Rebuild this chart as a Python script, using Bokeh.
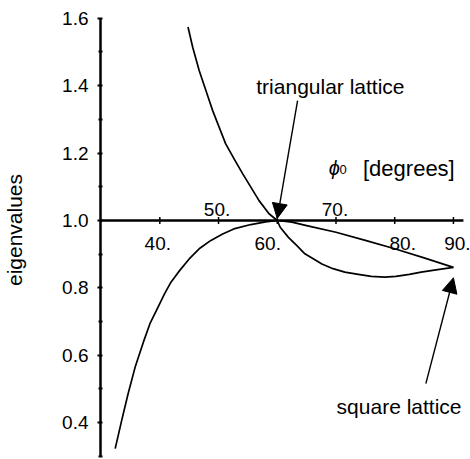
from bokeh.plotting import figure
from bokeh.models import LinearAxis, FixedTicker, Range1d, Arrow, NormalHead, PrintfTickFormatter
from bokeh.embed import file_html
from bokeh.resources import INLINE
from bokeh.core.properties import value

# Branch falling through the triangular-lattice point (phi0 = 60)
tri_angle = [44.8, 45.6, 46.7, 47.85, 49.0, 50.1, 51.2, 52.65, 54.1, 55.5, 56.9, 58.6, 60.0,
             60.5, 61.9, 63.3, 64.7, 66.2, 67.6, 69.5, 71.5, 73.8, 76.0, 78.3, 80.2, 82.5,
             84.5, 87.3, 90.0]
tri_eig = [1.574, 1.514, 1.445, 1.386, 1.326, 1.277, 1.228, 1.183, 1.139, 1.099, 1.059, 1.020, 1.000,
           0.980, 0.950, 0.926, 0.901, 0.886, 0.871, 0.857, 0.847, 0.840, 0.834, 0.832, 0.834, 0.840,
           0.847, 0.854, 0.861]

# Branch rising to touch 1.0 at 60 and ending at the square-lattice point (phi0 = 90)
sq_angle = [32.4, 33.5, 34.6, 35.8, 37.2, 38.3, 39.7, 40.8, 41.9, 43.4, 45.0, 46.7, 48.7,
            50.7, 52.6, 55.5, 58.0, 60.0, 62.5, 65.0, 70.0, 75.0, 80.0, 85.0, 90.0]
sq_eig = [0.323, 0.406, 0.486, 0.565, 0.639, 0.693, 0.743, 0.782, 0.817, 0.852, 0.886, 0.916, 0.941,
          0.960, 0.975, 0.988, 0.996, 1.000, 0.995, 0.985, 0.965, 0.941, 0.916, 0.889, 0.861]

x_ticks = [40, 50, 60, 70, 80, 90]
x_tick_labels = ["40.", "50.", "60.", "70.", "80.", "90."]
y_ticks = [0.4, 0.6, 0.8, 1.0, 1.2, 1.4, 1.6]
y_minor_ticks = [0.3, 0.5, 0.7, 0.9, 1.1, 1.3, 1.5]

FONT = "Liberation Sans"
INK = "black"

p = figure(width=470, height=459, output_backend="svg", toolbar_location=None,
           title=None, x_axis_type=None, y_axis_type=None,
           x_range=Range1d(29.9, 92.905), y_range=Range1d(0.2908, 1.6528),
           min_border_left=97, min_border_right=0, min_border_top=0, min_border_bottom=0)
p.outline_line_color = None
p.background_fill_color = "white"
p.border_fill_color = "white"

# vertical axis
yaxis = LinearAxis(bounds=(0.3, 1.6),
                   ticker=FixedTicker(ticks=y_ticks, minor_ticks=y_minor_ticks),
                   formatter=PrintfTickFormatter(format="%.1f"),
                   axis_label="eigenvalues")
yaxis.axis_line_width = 2.5
yaxis.axis_line_color = INK
yaxis.major_tick_line_width = 2
yaxis.major_tick_line_color = INK
yaxis.major_tick_in = 2
yaxis.major_tick_out = 3
yaxis.minor_tick_line_width = 2
yaxis.minor_tick_line_color = INK
yaxis.minor_tick_in = 2
yaxis.minor_tick_out = 2
yaxis.major_label_standoff = 9
yaxis.major_label_text_font = FONT
yaxis.major_label_text_font_size = "19px"
yaxis.major_label_text_color = INK
yaxis.axis_label_standoff = 33
yaxis.axis_label_text_font = FONT
yaxis.axis_label_text_font_size = "21px"
yaxis.axis_label_text_font_style = "normal"
yaxis.axis_label_text_color = INK
p.add_layout(yaxis, "left")

# horizontal axis at eigenvalue 1.0, with its own tick marks and labels
x_axis_span = [29.9, 91.7]
p.line(x=x_axis_span, y=[1.0, 1.0], line_width=2.5, color=INK)
p.scatter(x=x_ticks, y=[1.0] * len(x_ticks), marker="dash", angle=1.5708,
          size=7, line_width=1.5, line_color=INK)
label_dx = [-2, -1.5, -9.5, -1, 8, 4]
label_dy = [23, -11, 23, -11, 23, 23]
for xv, lab, dx, dy in zip(x_ticks, x_tick_labels, label_dx, label_dy):
    p.text(x=[xv], y=[1.0], text=[lab], x_offset=dx, y_offset=dy,
           text_align="center", text_baseline="alphabetic",
           text_font=value(FONT), text_font_size="19px", text_color=INK)

# eigenvalue branches
p.line(tri_angle, tri_eig, line_width=1.7, color=INK, line_join="round")
p.line(sq_angle, sq_eig, line_width=1.7, color=INK, line_join="round")

# axis title for phi0
p.text(x=[68.75], y=[1.155], text=["ϕ"], text_align="left", text_baseline="alphabetic",
       text_font=value(FONT), text_font_style="italic", text_font_size="20px", text_color=INK)
p.text(x=[70.6], y=[1.155], text=["0"], y_offset=1, text_align="left", text_baseline="alphabetic",
       text_font=value(FONT), text_font_size="13px", text_color=INK)
p.text(x=[74.6], y=[1.155], text=["[degrees]"], text_align="left", text_baseline="alphabetic",
       text_font=value(FONT), text_font_size="22px", text_color=INK)

# annotations pointing at the two lattice points
p.text(x=[69.05], y=[1.3976], text=["triangular lattice"], text_align="center",
       text_baseline="alphabetic", text_font=value(FONT), text_font_size="21px", text_color=INK)
p.add_layout(Arrow(end=NormalHead(size=15, fill_color=INK, line_color=INK, line_width=1),
                   x_start=63.46, y_start=1.356, x_end=60.0, y_end=1.006,
                   line_width=1.4, line_color=INK))

p.text(x=[80.74], y=[0.448], text=["square lattice"], text_align="center",
       text_baseline="alphabetic", text_font=value(FONT), text_font_size="21px", text_color=INK)
p.add_layout(Arrow(end=NormalHead(size=15, fill_color=INK, line_color=INK, line_width=1),
                   x_start=85.3, y_start=0.516, x_end=90.0, y_end=0.83,
                   line_width=1.4, line_color=INK))

open("out.html", "w").write(file_html(p, INLINE))
